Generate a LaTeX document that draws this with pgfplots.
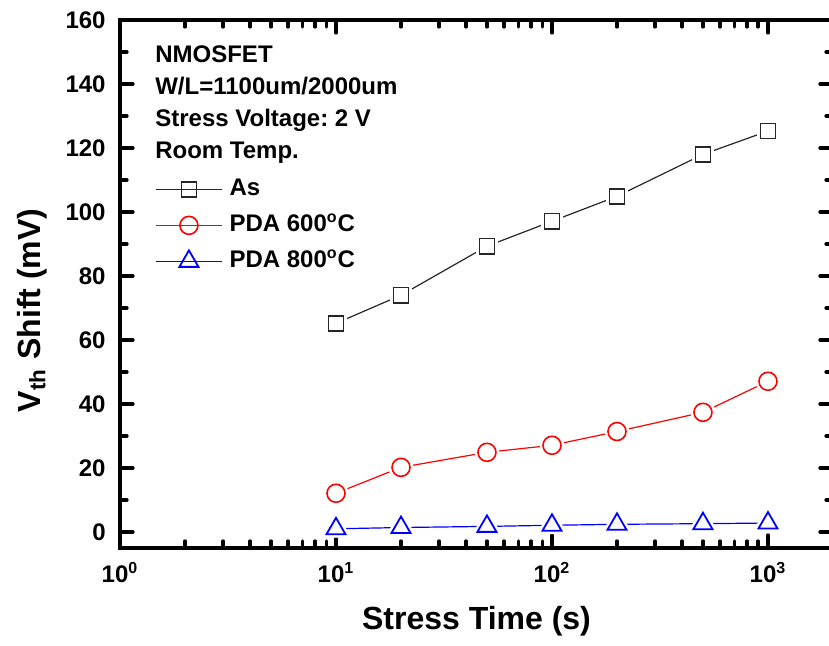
\documentclass[border=0pt]{standalone}
\usepackage{fontspec}
\setmainfont{Liberation Sans}
\usepackage{pgfplots}
\pgfplotsset{compat=1.18}
\frenchspacing

% data
\pgfplotstableread{
t   v
10  65.2
20  74.0
50  89.3
100 97.1
200 104.9
500 118.0
1000 125.3
}\dataAs
\pgfplotstableread{
t   v
10  12.1
20  20.2
50  24.9
100 27.1
200 31.4
500 37.4
1000 47.1
}\dataSix
\pgfplotstableread{
t   v
10  1.0
20  1.4
50  1.75
100 2.1
200 2.4
500 2.6
1000 2.8
}\dataEight

\begin{document}
\begin{tikzpicture}
\useasboundingbox (-60pt,-49pt) rectangle (354.5pt,274pt);
\begin{axis}[
    scale only axis,
    width=356.5pt, height=264pt,
    xmode=log,
    xmin=1, xmax=2000,
    ymin=-5, ymax=160,
    xtick={1,10,100,1000},
    xticklabels={10\textsuperscript{0},10\textsuperscript{1},10\textsuperscript{2},10\textsuperscript{3}},
    ytick={0,20,...,160},
    minor y tick num=1,
    tick align=inside,
    axis line style={line width=2pt},
    every tick/.style={black, line width=1.6pt, line cap=round},
    major tick length=6.5pt,
    minor tick length=3.5pt,
    /pgf/number format/assume math mode=true,
    tick label style={font=\fontsize{12}{14}\selectfont\bfseries},
    yticklabel style={inner sep=0pt, xshift=-7pt},
    xticklabel style={inner sep=0pt, anchor=north, yshift=-7pt},
    xlabel={Stress Time (s)},
    ylabel={V\textsubscript{th} Shift (mV)},
    label style={font=\fontsize{16}{18}\selectfont\bfseries},
    xlabel style={at={(axis description cs:0.5,-0.1553)}, anchor=base, inner sep=0pt},
    ylabel style={at={(axis description cs:-0.145,0.45)}, anchor=north, inner sep=0pt},
    legend style={at={(axis description cs:0.049,0.7027)}, anchor=north west,
        draw=none, fill=none, inner sep=0pt, row sep=6pt, column sep=3.5pt,
        font=\fontsize{12}{14}\selectfont\bfseries,
        nodes={inner sep=0pt, text height=9pt, text depth=3pt}},
    legend cell align=left,
    legend image code/.code={%
        \draw[#1, mark repeat=2, mark phase=2] plot coordinates {(0pt,0pt) (16.5pt,0pt) (33pt,0pt)};},
]
% As
\addplot[black!85, line width=0.6pt, mark=square, mark size=3.8pt,
    mark options={solid, fill=white, line width=0.8pt}] table[x=t,y=v] {\dataAs};
\addlegendentry{As}
% PDA 600
\addplot[red, line width=0.6pt, mark=o, mark size=4.5pt,
    mark options={solid, fill=white, line width=0.8pt}] table[x=t,y=v] {\dataSix};
\addlegendentry{PDA 600\textsuperscript{o}C}
% PDA 800
\addplot[blue, line width=0.6pt, mark=triangle, mark size=5.5pt,
    mark options={solid, fill=white, line width=0.9pt}] table[x=t,y=v] {\dataEight};
\addlegendentry{PDA 800\textsuperscript{o}C}

% white halos so the lines stop short of the marks, then the marks again
\addplot[forget plot, only marks, mark=square*, mark size=5.3pt, white] table[x=t,y=v] {\dataAs};
\addplot[forget plot, only marks, mark=*, mark size=6pt, white] table[x=t,y=v] {\dataSix};
\addplot[forget plot, only marks, mark=triangle*, mark size=8.5pt, white] table[x=t,y=v] {\dataEight};
\addplot[forget plot, only marks, black!85, mark=square, mark size=3.8pt,
    mark options={fill=white, line width=0.8pt}] table[x=t,y=v] {\dataAs};
\addplot[forget plot, only marks, red, mark=o, mark size=4.5pt,
    mark options={fill=white, line width=0.8pt}] table[x=t,y=v] {\dataSix};
\addplot[forget plot, only marks, blue, mark=triangle, mark size=5.5pt,
    mark options={fill=white, line width=0.9pt}] table[x=t,y=v] {\dataEight};

\node[anchor=north west, inner sep=0pt, align=left,
    font=\fontsize{12}{16}\selectfont\bfseries]
    at (axis description cs:0.049,0.9527)
    {NMOSFET\\W/L=1100um/2000um\\Stress Voltage: 2 V\\Room Temp.};
\end{axis}
\end{tikzpicture}
\end{document}
